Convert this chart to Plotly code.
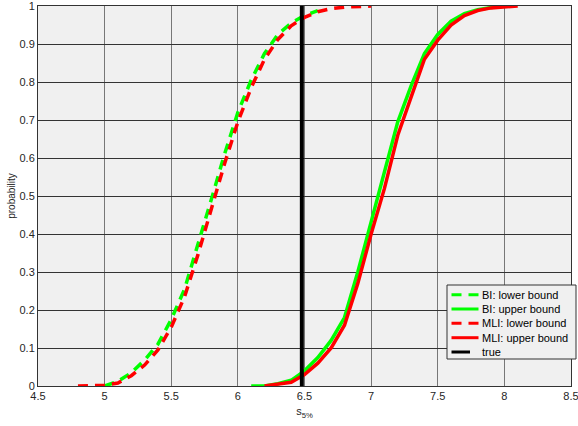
import plotly.graph_objects as go

# Lower bound (dashed) curves
bi_lower_x = [5.0, 5.1, 5.2, 5.3, 5.4, 5.5, 5.6, 5.7, 5.8, 5.9, 6.0, 6.1, 6.2, 6.3, 6.4, 6.5, 6.6]
bi_lower_y = [0.0, 0.012, 0.035, 0.068, 0.11, 0.175, 0.255, 0.37, 0.49, 0.61, 0.72, 0.805, 0.875, 0.925, 0.955, 0.975, 0.988]

mli_lower_x = [4.8, 4.9, 5.0, 5.1, 5.2, 5.3, 5.4, 5.5, 5.6, 5.7, 5.8, 5.9, 6.0, 6.1, 6.2, 6.3, 6.4, 6.5, 6.6, 6.7, 6.8, 6.9, 7.0]
mli_lower_y = [0.0, 0.001, 0.002, 0.008, 0.027, 0.055, 0.095, 0.155, 0.235, 0.345, 0.465, 0.585, 0.695, 0.785, 0.86, 0.912, 0.948, 0.97, 0.985, 0.993, 0.997, 0.999, 1.0]

# Upper bound (solid) curves
bi_upper_x = [6.1, 6.2, 6.3, 6.4, 6.5, 6.6, 6.7, 6.8, 6.9, 7.0, 7.1, 7.2, 7.3, 7.4, 7.5, 7.6, 7.7, 7.8, 7.9, 8.0]
bi_upper_y = [0.0, 0.0, 0.006, 0.015, 0.04, 0.075, 0.12, 0.18, 0.30, 0.43, 0.56, 0.695, 0.79, 0.875, 0.925, 0.96, 0.98, 0.99, 0.996, 0.999]

mli_upper_x = [6.2, 6.3, 6.4, 6.5, 6.6, 6.7, 6.8, 6.9, 7.0, 7.1, 7.2, 7.3, 7.4, 7.5, 7.6, 7.7, 7.8, 7.9, 8.0, 8.1]
mli_upper_y = [0.0, 0.005, 0.01, 0.03, 0.06, 0.10, 0.16, 0.27, 0.40, 0.52, 0.66, 0.76, 0.86, 0.91, 0.95, 0.975, 0.988, 0.995, 0.998, 1.0]

true_x = [6.48, 6.48]
true_y = [0.0, 1.0]

x_ticks = [4.5, 5, 5.5, 6, 6.5, 7, 7.5, 8, 8.5]
x_labels = ["4.5", "5", "5.5", "6", "6.5", "7", "7.5", "8", "8.5"]
y_ticks = [0, 0.1, 0.2, 0.3, 0.4, 0.5, 0.6, 0.7, 0.8, 0.9, 1]
y_labels = ["0", "0.1", "0.2", "0.3", "0.4", "0.5", "0.6", "0.7", "0.8", "0.9", "1"]

GREEN = "#00ff00"
RED = "#ff0000"
DASH = "10px,7px"

series = [
    ("BI: lower bound", bi_lower_x, bi_lower_y, GREEN, DASH, 3.5),
    ("BI: upper bound", bi_upper_x, bi_upper_y, GREEN, "solid", 3.5),
    ("MLI: lower bound", mli_lower_x, mli_lower_y, RED, DASH, 3.5),
    ("MLI: upper bound", mli_upper_x, mli_upper_y, RED, "solid", 3.5),
    ("true", true_x, true_y, "black", "solid", 4),
]

fig = go.Figure()
for name, xs, ys, col, dash, w in series:
    fig.add_trace(go.Scatter(x=xs, y=ys, mode="lines", name=name, showlegend=False,
                             line=dict(color=col, width=w, dash=dash)))

# Custom legend (box, sample lines, labels) in paper coordinates
W = 578 - 38 - 7
H = 426 - 6 - 40
def px(xp):
    return (xp - 38) / W
def py(yp):
    return (386 - yp) / H

shapes = [dict(type="rect", xref="paper", yref="paper",
               x0=px(447), x1=px(576), y0=py(359), y1=py(285),
               fillcolor="#f0f0f0", line=dict(color="#333333", width=1), layer="above")]
annotations = []
row_y = [294.7, 309.0, 323.3, 337.7, 352.0]
for (name, xs, ys, col, dash, w), ry in zip(series, row_y):
    x_end = 470 if name == "true" else 478.5
    shapes.append(dict(type="line", xref="paper", yref="paper",
                       x0=px(451.5), x1=px(x_end), y0=py(ry), y1=py(ry),
                       line=dict(color=col, width=3, dash=dash),
                       layer="above"))
    annotations.append(dict(xref="paper", yref="paper", x=px(480), y=py(ry),
                            xanchor="left", yanchor="middle", showarrow=False,
                            text=name, font=dict(size=11, color="#000000")))

fig.update_layout(
    width=578, height=426,
    margin=dict(l=38, r=7, t=6, b=40),
    paper_bgcolor="white",
    plot_bgcolor="#f0f0f0",
    font=dict(family="Liberation Sans, Arial, sans-serif", size=11, color="#262626"),
    showlegend=False,
    shapes=shapes,
    annotations=annotations,
    xaxis=dict(range=[4.5, 8.5], tickvals=x_ticks, ticktext=x_labels, automargin=False,
               ticklabeloverflow="allow",
               showgrid=True, gridcolor="#777777", gridwidth=1,
               showline=True, linecolor="#333333", linewidth=1, mirror=True,
               zeroline=False, ticks="", title=dict(text="s<sub>5%</sub>", font=dict(size=11), standoff=6)),
    yaxis=dict(range=[0, 1], tickvals=y_ticks, ticktext=y_labels, automargin=False,
               ticklabeloverflow="allow",
               showgrid=True, gridcolor="#333333", gridwidth=1,
               showline=True, linecolor="#333333", linewidth=1, mirror=True,
               zeroline=False, ticks="", title=dict(text="probability", font=dict(size=10), standoff=2)),
)

fig.write_html("out.html")
